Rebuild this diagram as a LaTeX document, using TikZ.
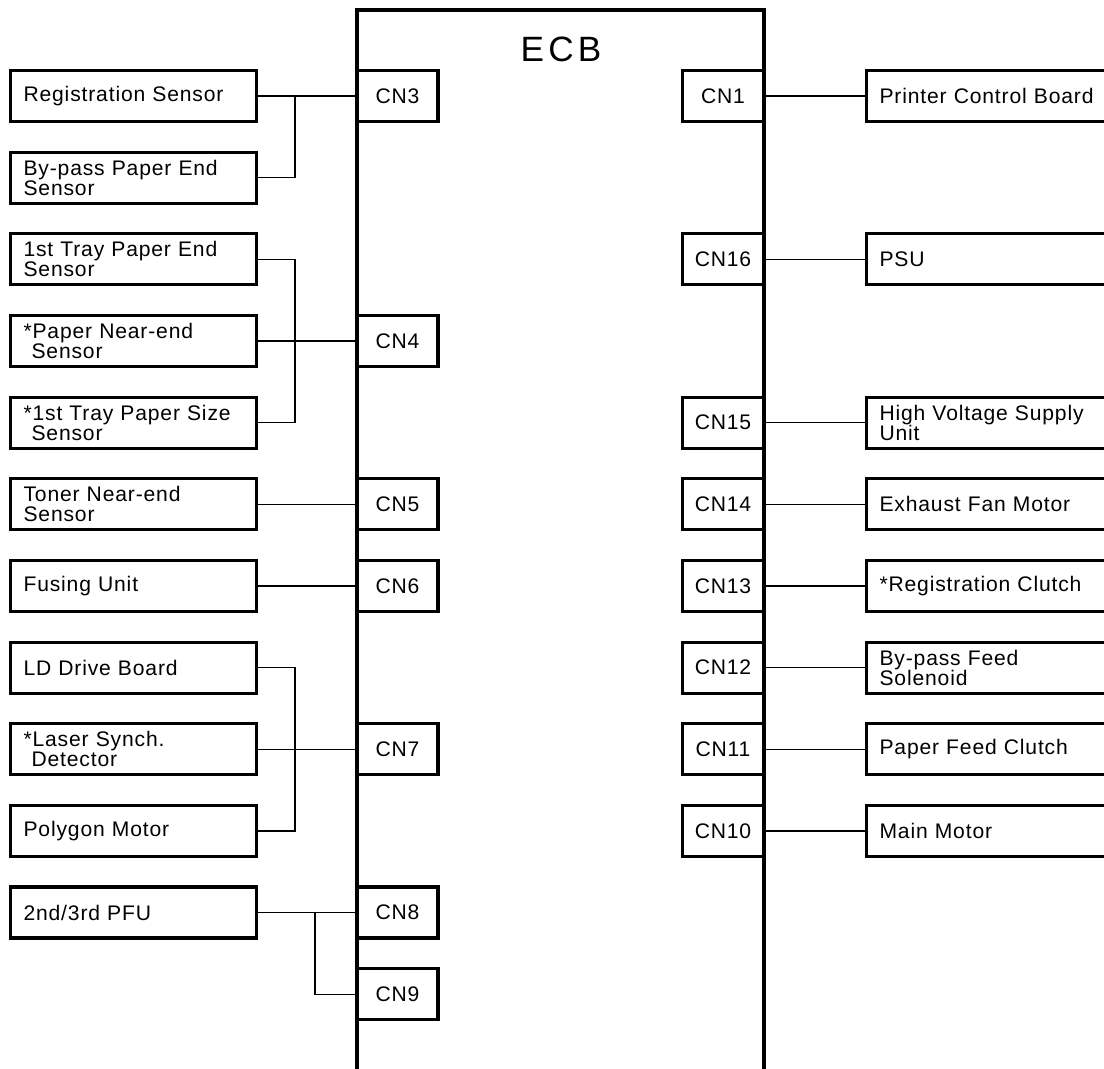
\documentclass[tikz,border=0pt]{standalone}
\usepackage{fontspec}
\setmainfont{Liberation Sans}[LetterSpace=4]
\newfontfamily\ecbfont{Liberation Sans}[LetterSpace=12]
\usetikzlibrary{positioning, calc}

\begin{document}
\begin{tikzpicture}[x=0.025cm, y=-0.025cm,
    every node/.style={font=\fontsize{15}{14.4}\selectfont},
    part/.style={draw, line width=2.2pt, anchor=west, minimum height=1.275cm,
      text width=5.5cm, inner xsep=0.325cm, inner ysep=0pt, align=left},
    conn/.style={draw, line width=2.2pt, minimum height=1.275cm,
      minimum width=2.025cm, inner sep=0pt},
    wire/.style={line width=1pt}]
  \useasboundingbox (0,0) rectangle (1104,1068);
  \clip (0,0) rectangle (1104,1068);

  % ECB board
  \draw[line width=2.2pt] (357,1080) -- (357,10) -- (764,10) -- (764,1080);
  \node[font=\ecbfont\fontsize{25}{25}\selectfont] (ecb) at (561,49) {ECB};

  % Left connectors
  \node[conn] (cn3) at (397.5,96) {CN3};
  \node[conn] (cn4) at (397.5,341) {CN4};
  \node[conn] (cn5) at (397.5,504.3) {CN5};
  \node[conn] (cn6) at (397.5,586) {CN6};
  \node[conn] (cn7) at (397.5,749.2) {CN7};
  \node[conn] (cn8) at (397.5,912.5) {CN8};
  \node[conn] (cn9) at (397.5,994.2) {CN9};

  % Right connectors
  \node[conn] (cn1) at (723,96) {CN1};
  \node[conn] (cn16) at (723,259.3) {CN16};
  \node[conn] (cn15) at (723,422.6) {CN15};
  \node[conn] (cn14) at (723,504.3) {CN14};
  \node[conn] (cn13) at (723,586) {CN13};
  \node[conn] (cn12) at (723,667.6) {CN12};
  \node[conn] (cn11) at (723,749.2) {CN11};
  \node[conn] (cn10) at (723,830.9) {CN10};

  % Left parts
  \node[part] (regsen) at (9,96) {Registration Sensor};
  \node[part] (bypsen) at (9,177.7) {By-pass Paper End\\Sensor};
  \node[part] (trysen) at (9,259.3) {1st Tray Paper End\\Sensor};
  \node[part] (nearsen) at (9,341) {*Paper Near-end\\\hspace*{0.2cm}Sensor};
  \node[part] (sizesen) at (9,422.6) {*1st Tray Paper Size\\\hspace*{0.2cm}Sensor};
  \node[part] (tonsen) at (9,504.3) {Toner Near-end\\Sensor};
  \node[part] (fusing) at (9,586) {Fusing Unit};
  \node[part] (ldboard) at (9,667.6) {LD Drive Board};
  \node[part] (lsd) at (9,749.2) {*Laser Synch.\\\hspace*{0.2cm}Detector};
  \node[part] (polygon) at (9,830.9) {Polygon Motor};
  \node[part] (pfu) at (9,912.5) {2nd/3rd PFU};

  % Right parts
  \node[part] (pcb) at (865,96) {Printer Control Board};
  \node[part] (psu) at (865,259.3) {PSU};
  \node[part] (hvps) at (865,422.6) {High Voltage Supply\\Unit};
  \node[part] (fan) at (865,504.3) {Exhaust Fan Motor};
  \node[part] (regcl) at (865,586) {*Registration Clutch};
  \node[part] (sol) at (865,667.6) {By-pass Feed\\Solenoid};
  \node[part] (feedcl) at (865,749.2) {Paper Feed Clutch};
  \node[part] (mainmot) at (865,830.9) {Main Motor};

  % Bus lines
  \coordinate (busA) at (295,0);
  \coordinate (busB) at (315,0);

  % Left wiring
  \draw[wire] (regsen) -- (cn3);
  \draw[wire] (bypsen.east) -| (busA |- regsen.east);
  \draw[wire] (trysen.east) -| (busA |- sizesen.east) -- (sizesen.east);
  \draw[wire] (nearsen) -- (cn4);
  \draw[wire] (tonsen) -- (cn5);
  \draw[wire] (fusing) -- (cn6);
  \draw[wire] (ldboard.east) -| (busA |- polygon.east) -- (polygon.east);
  \draw[wire] (lsd) -- (cn7);
  \draw[wire] (pfu) -- (cn8);
  \draw[wire] (busB |- pfu.east) |- (cn9.west);

  % Right wiring
  \draw[wire] (cn1) -- (pcb);
  \draw[wire] (cn16) -- (psu);
  \draw[wire] (cn15) -- (hvps);
  \draw[wire] (cn14) -- (fan);
  \draw[wire] (cn13) -- (regcl);
  \draw[wire] (cn12) -- (sol);
  \draw[wire] (cn11) -- (feedcl);
  \draw[wire] (cn10) -- (mainmot);
\end{tikzpicture}
\end{document}
